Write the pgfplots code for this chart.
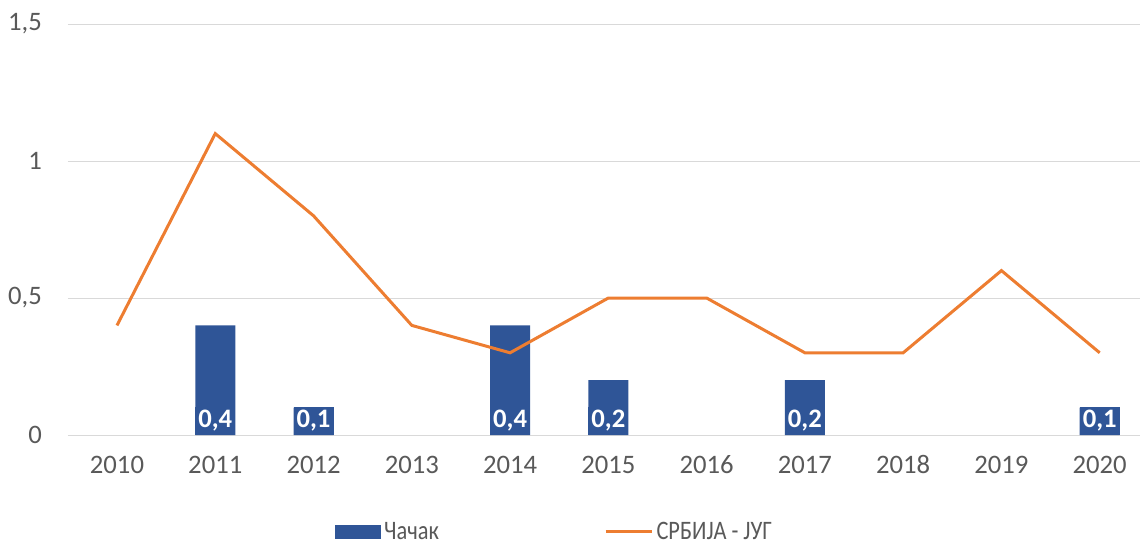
\documentclass[border=0pt]{standalone}
\usepackage{pgfplots}
\pgfplotsset{compat=1.18}
\usepackage{pgfplotstable}
\usepackage{fontspec}
\setmainfont{Carlito}
\newfontfamily\legfont[FakeStretch=0.84]{Carlito}
\definecolor{barblue}{HTML}{2F5597}
\definecolor{lineorange}{HTML}{ED7D31}
\definecolor{txtgray}{HTML}{595959}
\definecolor{gridgray}{HTML}{D9D9D9}

\pgfplotstableread{
x y
1 0.4
2 0.1
4 0.4
5 0.2
7 0.2
10 0.1
}\cacak

\pgfplotstableread{
x y
0 0.4
1 1.1
2 0.8
3 0.4
4 0.3
5 0.5
6 0.5
7 0.3
8 0.3
9 0.6
10 0.3
}\srbija

\begin{document}
\begin{tikzpicture}
\path[use as bounding box] (0,0) rectangle (855pt,408pt);
\begin{axis}[
  at={(50.89pt,81.75pt)}, anchor=south west,
  scale only axis, width=804.11pt, height=308.25pt,
  xmin=-0.5, xmax=10.41, ymin=0, ymax=1.5,
  clip=false,
  axis line style={draw=none},
  major tick length=0pt,
  tick style={draw=none},
  ymajorgrids,
  major grid style={gridgray, line width=0.75pt},
  xtick={0,1,2,3,4,5,6,7,8,9,10},
  xticklabels={2010,2011,2012,2013,2014,2015,2016,2017,2018,2019,2020},
  ytick={0,0.5,1,1.5},
  yticklabels={0,{0,5},1,{1,5}},
  tick label style={font=\fontsize{20pt}{24pt}\selectfont, text=txtgray},
  yticklabel style={anchor=east, xshift=-16pt},
  xticklabel style={anchor=north, yshift=-12pt},
  legend style={at={(0.4544,-0.236)}, anchor=center, draw=none, fill=none,
    font=\legfont\fontsize{20pt}{24pt}\selectfont, text=txtgray,
    legend columns=2,
    /tikz/every even column/.append style={column sep=122pt}},
]
\addplot[ybar, bar width=30pt, fill=barblue, draw=none,
  legend image code/.code={\fill[barblue] (0pt,-5.6pt) rectangle (34.5pt,5.6pt);}]
  table[x=x, y=y]{\cacak};
\addlegendentry{Чачак}
\addplot[lineorange, line width=2.25pt, mark=none,
  legend image code/.code={\draw[lineorange, line width=2.25pt] (0pt,0pt) -- (35pt,0pt);}]
  table[x=x, y=y]{\srbija};
\addlegendentry{СРБИЈА - ЈУГ}
\addplot[draw=none, mark=none, forget plot,
  point meta=explicit,
  nodes near coords,
  /pgf/number format/use comma,
  /pgf/number format/fixed,
  /pgf/number format/precision=1,
  /pgf/number format/assume math mode=true,
  every node near coord/.append style={fill=barblue, text=white,
    font=\fontsize{20pt}{24pt}\selectfont\bfseries,
    anchor=south, minimum width=30pt, minimum height=21pt, inner sep=0pt}]
  table[x=x, y expr=0, meta=y]{\cacak};
\end{axis}
\end{tikzpicture}
\end{document}
